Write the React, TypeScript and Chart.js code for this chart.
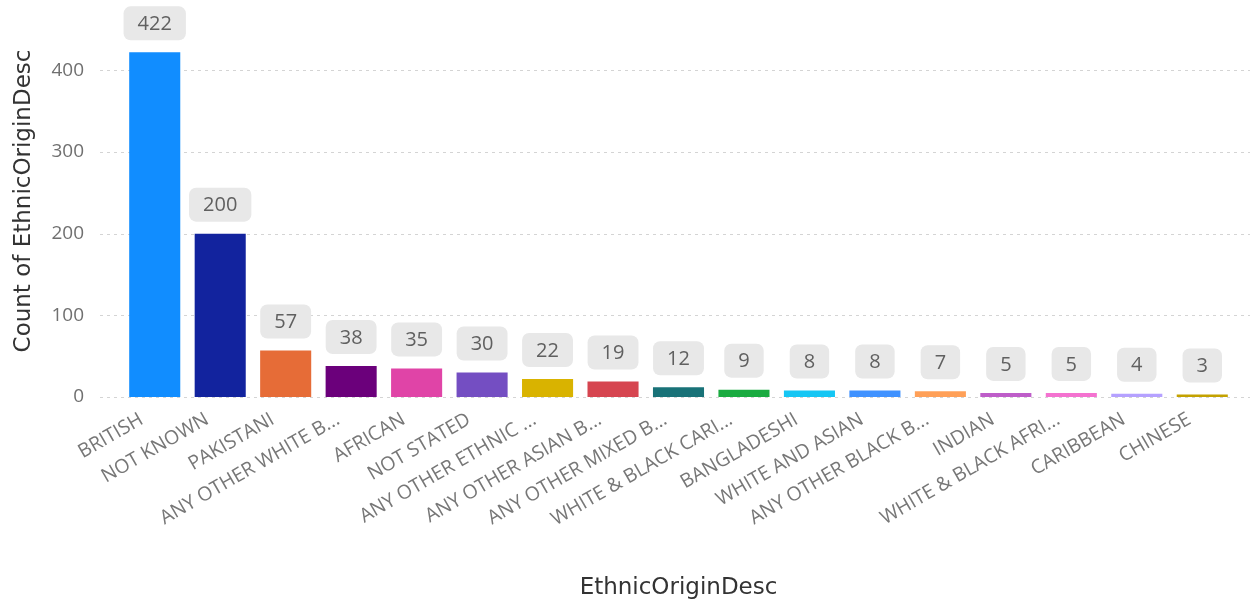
import React, { useEffect, useRef } from "react";
import { Chart, registerables } from "chart.js";

Chart.register(...registerables);

const categories = [
  "BRITISH",
  "NOT KNOWN",
  "PAKISTANI",
  "ANY OTHER WHITE B...",
  "AFRICAN",
  "NOT STATED",
  "ANY OTHER ETHNIC ...",
  "ANY OTHER ASIAN B...",
  "ANY OTHER MIXED B...",
  "WHITE & BLACK CARI...",
  "BANGLADESHI",
  "WHITE AND ASIAN",
  "ANY OTHER BLACK B...",
  "INDIAN",
  "WHITE & BLACK AFRI...",
  "CARIBBEAN",
  "CHINESE",
];

const counts = [422, 200, 57, 38, 35, 30, 22, 19, 12, 9, 8, 8, 7, 5, 5, 4, 3];

const barColors = [
  "#118DFF",
  "#12239E",
  "#E66C37",
  "#6B007B",
  "#E044A7",
  "#744EC2",
  "#D9B300",
  "#D64550",
  "#197278",
  "#1AAB40",
  "#15C6F4",
  "#4092FF",
  "#FFA058",
  "#BE5DC9",
  "#F472D0",
  "#B5A1FF",
  "#C4A200",
];

const yTickValues = [0, 100, 200, 300, 400];

const W = 1252;
const H = 602;

// Dashed horizontal gridlines that run a little past the plot area on both sides
const dashedGrid = {
  id: "dashedGrid",
  beforeDatasetsDraw(chart: any) {
    const { ctx } = chart;
    const y = chart.scales.y;
    ctx.save();
    ctx.strokeStyle = "#d4d4d4";
    ctx.lineWidth = 1;
    ctx.setLineDash([3, 4]);
    for (const v of yTickValues) {
      const py = Math.round(y.getPixelForValue(v)) + 0.5;
      ctx.beginPath();
      ctx.moveTo(100, py);
      ctx.lineTo(W - 2, py);
      ctx.stroke();
    }
    ctx.restore();
  },
};

// Rounded grey value badges above each bar
const valueBadges = {
  id: "valueBadges",
  afterDatasetsDraw(chart: any) {
    const { ctx } = chart;
    const meta = chart.getDatasetMeta(0);
    const values = chart.data.datasets[0].data as number[];
    ctx.save();
    ctx.font = '20px "Open Sans", sans-serif';
    ctx.textAlign = "center";
    ctx.textBaseline = "middle";
    meta.data.forEach((bar: any, i: number) => {
      const text = String(values[i]);
      const tw = ctx.measureText(text).width;
      const bw = tw + 28;
      const bh = 34;
      const bottom = bar.y - 12;
      const top = bottom - bh;
      const left = bar.x - bw / 2;
      ctx.fillStyle = "#e8e8e8";
      ctx.beginPath();
      ctx.roundRect(left, top, bw, bh, 7);
      ctx.fill();
      ctx.fillStyle = "#606060";
      ctx.fillText(text, bar.x, top + bh / 2 + 1);
    });
    ctx.restore();
  },
};

export default function App() {
  const canvasRef = useRef<HTMLCanvasElement | null>(null);

  useEffect(() => {
    if (!canvasRef.current) return;
    const chart = new Chart(canvasRef.current, {
      type: "bar",
      data: {
        labels: categories,
        datasets: [
          {
            data: counts,
            backgroundColor: barColors,
            borderWidth: 0,
            categoryPercentage: 1,
            barPercentage: 0.78,
          },
        ],
      },
      options: {
        responsive: false,
        animation: false,
        layout: { padding: { top: 5, right: 17, left: 0, bottom: 0 } },
        plugins: {
          legend: { display: false },
          tooltip: { enabled: false },
        },
        scales: {
          x: {
            grid: { display: false, drawTicks: false },
            border: { display: false },
            ticks: {
              autoSkip: false,
              minRotation: 30,
              maxRotation: 30,
              padding: 11,
              labelOffset: -13,
              color: "#777777",
              font: { family: '"Open Sans", sans-serif', size: 19.5 },
            },
            title: {
              display: true,
              text: "EthnicOriginDesc",
              color: "#333333",
              font: { family: '"DejaVu Sans", sans-serif', size: 23 },
              padding: { top: 0, bottom: 0 },
            },
            afterFit(scale: any) {
              scale.height = 205;
              scale.paddingLeft = 0;
              scale.paddingRight = 0;
            },
          },
          y: {
            min: 0,
            max: 480,
            grid: { display: false, drawTicks: false },
            border: { display: false },
            afterBuildTicks(scale: any) {
              scale.ticks = yTickValues.map((v) => ({ value: v }));
            },
            ticks: {
              padding: 38,
              color: "#707070",
              font: { family: '"Open Sans", sans-serif', size: 19 },
            },
            title: {
              display: true,
              text: "Count of EthnicOriginDesc",
              color: "#333333",
              font: { family: '"DejaVu Sans", sans-serif', size: 23 },
              padding: { top: 10, bottom: 0 },
            },
            afterFit(scale: any) {
              scale.width = 122;
              scale.paddingTop = 0;
              scale.paddingBottom = 0;
            },
          },
        },
      },
      plugins: [dashedGrid, valueBadges],
    });
    return () => chart.destroy();
  }, []);

  return (
    <div style={{ position: "absolute", left: 0, top: 0, width: W, height: H, background: "#fff" }}>
      <canvas ref={canvasRef} width={W} height={H} style={{ display: "block" }} />
    </div>
  );
}
